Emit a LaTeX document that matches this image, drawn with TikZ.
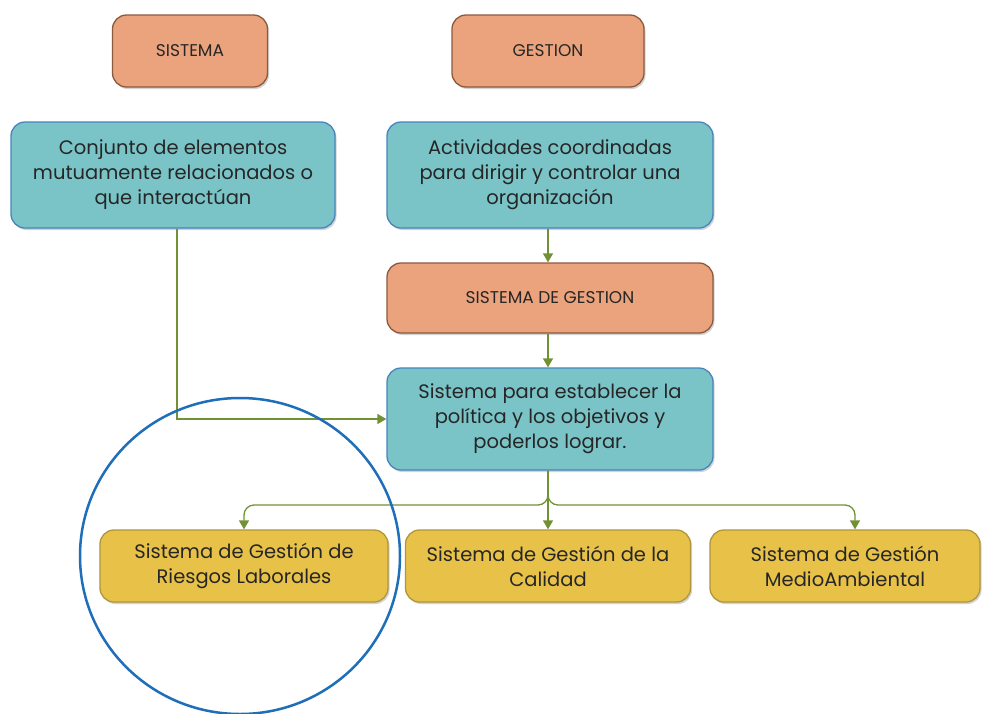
\documentclass[tikz,border=0pt]{standalone}
\usepackage{fontspec}
\setmainfont{Poppins}
\usetikzlibrary{arrows.meta,shadows}
\definecolor{orfill}{RGB}{234,163,124}
\definecolor{ordraw}{RGB}{140,90,60}
\definecolor{tefill}{RGB}{122,196,200}
\definecolor{tedraw}{RGB}{72,132,190}
\definecolor{yefill}{RGB}{232,194,72}
\definecolor{yedraw}{RGB}{176,150,60}
\definecolor{linkc}{RGB}{112,146,52}
\definecolor{ringc}{RGB}{30,110,185}
\begin{document}
\begin{tikzpicture}[x=1pt,y=-1pt,
  boxbase/.style={rounded corners=14pt, line width=1.3pt, align=center, text=black!85,
    font=\fontsize{19.5}{25}\selectfont, inner sep=0pt,
    drop shadow={shadow xshift=1.5pt, shadow yshift=-2pt, opacity=0.35}},
  orbox/.style={boxbase, fill=orfill, draw=ordraw, font=\fontsize{17}{22}\selectfont},
  tebox/.style={boxbase, fill=tefill, draw=tedraw},
  yebox/.style={boxbase, fill=yefill, draw=yedraw},
  link/.style={draw=linkc, line width=1.3pt, -{Triangle[length=9pt,width=10pt]}}]
\useasboundingbox (0,0) rectangle (991,713);
\fill[white] (0,0) rectangle (991,713);
\node[orbox, minimum width=155pt, minimum height=72pt] (sis) at (190,51) {SISTEMA};
\node[orbox, minimum width=192pt, minimum height=72pt] (ges) at (548,51) {GESTION};
\node[tebox, minimum width=324pt, minimum height=106pt] (conj) at (173,175)
  {Conjunto de elementos\\mutuamente relacionados o\\que interactúan};
\node[tebox, minimum width=326pt, minimum height=106pt] (act) at (550,175)
  {Actividades coordinadas\\para dirigir y controlar una\\organización};
\node[orbox, minimum width=326pt, minimum height=70pt] (sdg) at (550,298) {SISTEMA DE GESTION};
\node[tebox, minimum width=326pt, minimum height=102pt] (est) at (550,419)
  {Sistema para establecer la\\política y los objetivos y\\poderlos lograr.};
\node[yebox, minimum width=288pt, minimum height=72pt] (rie) at (244,566)
  {Sistema de Gestión de\\Riesgos Laborales};
\node[yebox, minimum width=285pt, minimum height=72pt] (cal) at (548,566)
  {Sistema de Gestión de la\\Calidad};
\node[yebox, minimum width=270pt, minimum height=72pt] (med) at (845,566)
  {Sistema de Gestión\\MedioAmbiental};
\coordinate (br) at (548,505);
\draw[link] (conj.south -| 177,0) |- (est.west);
\draw[link] (act.south -| 548,0) -- (sdg.north -| 548,0);
\draw[link] (sdg.south -| 548,0) -- (est.north -| 548,0);
\draw[link] (est.south -| 548,0) -- (cal.north -| 548,0);
\draw[link, rounded corners=10pt] (est.south -| 548,0) |- (br) -| (rie.north);
\draw[link, rounded corners=10pt] (est.south -| 548,0) |- (br) -| (med.north -| 855,0);
\draw[ringc, line width=2.5pt] (240,556) ellipse [x radius=160, y radius=158];
\end{tikzpicture}
\end{document}
